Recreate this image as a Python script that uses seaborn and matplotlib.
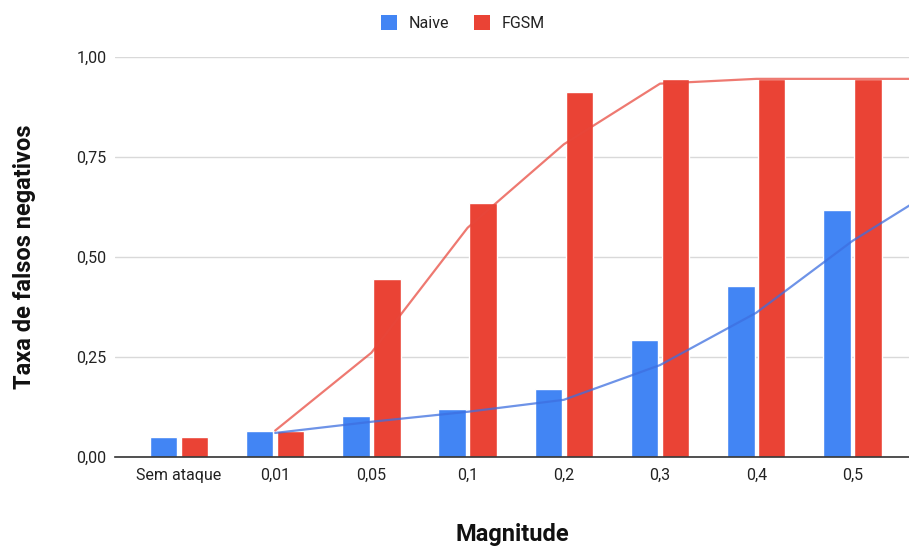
import matplotlib
matplotlib.use("Agg")
import matplotlib.pyplot as plt
import seaborn as sns
import pandas as pd
from matplotlib.patches import Patch

# ---- data ----
categories = ["Sem ataque", "0,01", "0,05", "0,1", "0,2", "0,3", "0,4", "0,5"]
naive = [0.048, 0.065, 0.102, 0.120, 0.170, 0.292, 0.427, 0.617]
fgsm = [0.048, 0.065, 0.445, 0.634, 0.912, 0.946, 0.946, 0.946]

# trend lines (last point is the hidden next category)
trend_pos = [1, 2, 3, 4, 5, 6, 7, 8]
naive_trend = [0.059, 0.087, 0.112, 0.142, 0.229, 0.360, 0.540, 0.690]
fgsm_trend = [0.065, 0.260, 0.573, 0.782, 0.934, 0.946, 0.946, 0.946]

yticks = [0.0, 0.25, 0.5, 0.75, 1.0]
ytick_labels = ["0,00", "0,25", "0,50", "0,75", "1,00"]
series_names = ["Naive", "FGSM"]

BLUE = "#4285F4"
RED = "#EA4335"

sns.set_theme(style="white")
plt.rcParams["font.family"] = ["Roboto", "DejaVu Sans"]

df = pd.DataFrame({
    "Magnitude": categories * 2,
    "valor": naive + fgsm,
    "serie": [series_names[0]] * len(categories) + [series_names[1]] * len(categories),
})

fig = plt.figure(figsize=(9.09, 5.48), dpi=100)
W, H = 909, 548
ax = fig.add_axes([115 / W, (H - 456.5) / H, (909 - 115) / W, (456.5 - 57.3) / H])

sns.barplot(data=df, x="Magnitude", y="valor", hue="serie", order=categories,
            hue_order=series_names, palette=[BLUE, RED], width=0.644, gap=0.11,
            saturation=1, ax=ax, legend=False, zorder=2)

trend_df = pd.DataFrame({
    "x": trend_pos * 2,
    "y": naive_trend + fgsm_trend,
    "serie": ["Naive"] * len(trend_pos) + ["FGSM"] * len(trend_pos),
})
sns.lineplot(data=trend_df[trend_df.serie == "Naive"], x="x", y="y", color="#3d6fe0",
             alpha=0.75, linewidth=1.6, ax=ax, legend=False, zorder=3, sort=False)
sns.lineplot(data=trend_df[trend_df.serie == "FGSM"], x="x", y="y", color="#e8463a",
             alpha=0.72, linewidth=1.6, ax=ax, legend=False, zorder=3, sort=False)

ax.set_xlim(-0.665, 7.588)
ax.set_ylim(0, 1.0)
ax.set_yticks(yticks)
ax.set_yticklabels(ytick_labels)
ax.grid(axis="y", color="#d9d9d9", linewidth=1.0, zorder=0)
ax.grid(axis="x", visible=False)
for s in ["top", "right", "left"]:
    ax.spines[s].set_visible(False)
ax.spines["bottom"].set_color("#333333")
ax.spines["bottom"].set_linewidth(1.2)
ax.spines["bottom"].set_zorder(4)
ax.tick_params(axis="both", length=0, labelsize=11.5, labelcolor="#222222")
ax.tick_params(axis="y", pad=6)
ax.tick_params(axis="x", pad=8)

ax.set_xlabel("Magnitude", fontsize=17, fontweight="bold", color="#111111", va="center")
ax.xaxis.set_label_coords(0.5, -(535 - 456.5) / 399.2)
ax.set_ylabel("Taxa de falsos negativos", fontsize=17, fontweight="bold", color="#111111",
              va="center")
ax.yaxis.set_label_coords((25 - 115) / 794, 0.5)

handles = [Patch(facecolor=BLUE, edgecolor="none"), Patch(facecolor=RED, edgecolor="none")]
fig.legend(handles, series_names, loc="upper center", bbox_to_anchor=(463 / W, 1 - 1 / H),
           ncol=2, frameon=False, fontsize=11.5, handlelength=1.0, handleheight=1.0,
           handletextpad=0.7, columnspacing=1.6, labelcolor="#222222")

fig.savefig("out.png", dpi=100)
